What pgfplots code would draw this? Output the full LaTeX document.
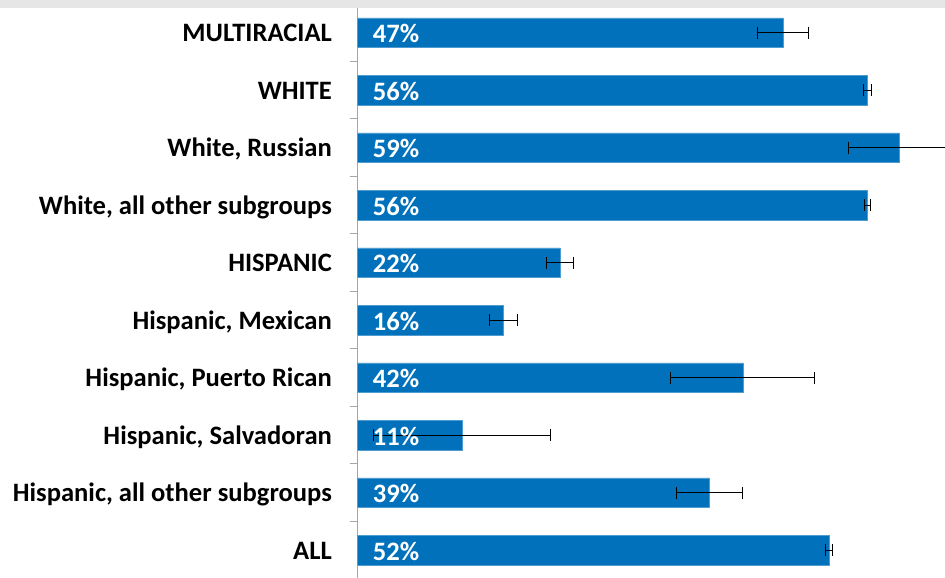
\documentclass[border=0pt]{standalone}
\usepackage{fontspec}
\setmainfont{Carlito}
\usepackage{pgfplots}
\usepackage{pgfplotstable}
\pgfplotsset{compat=1.18}

\definecolor{barblue}{RGB}{2,113,188}
\definecolor{axisgray}{RGB}{166,166,166}
\definecolor{stripgray}{RGB}{230,230,230}

% y = row (0 = top), x = share, e = error half-width, lab = printed label
\pgfplotstableread{
y x     e    lab
0 46.7  2.8  47\%
1 56.0  0.4  56\%
2 59.45 5.6  59\%
3 56.0  0.35 56\%
4 22.2  1.5  22\%
5 16.0  1.55 16\%
6 42.3  7.9  42\%
7 11.46 9.7  11\%
8 38.66 3.6  39\%
9 51.77 0.4  52\%
}\shares

\begin{document}
\begin{tikzpicture}
\begin{axis}[
    at={(357.7bp,-0.8bp)}, anchor=south west,
    scale only axis,
    width=587.3bp, height=575bp,
    xmin=0, xmax=64.5,
    ymin=-0.5, ymax=9.5,
    y dir=reverse,
    axis x line=none,
    axis y line*=left,
    y axis line style={axisgray, line width=1bp, -},
    xtick=\empty,
    ytick={0,...,9},
    yticklabels={MULTIRACIAL, WHITE, {White, Russian}, {White, all other subgroups},
        HISPANIC, {Hispanic, Mexican}, {Hispanic, Puerto Rican}, {Hispanic, Salvadoran},
        {Hispanic, all other subgroups}, ALL},
    major tick length=0pt,
    minor ytick={-0.5,0.5,...,9.5},
    minor tick length=8bp,
    tick align=outside,
    minor tick style={axisgray, line width=1bp},
    yticklabel style={font=\bfseries\fontsize{26.67}{30}\selectfont, anchor=base east,
        inner sep=0pt, xshift=-25.7bp, yshift=-9.2bp, text=black},
]
\addplot[xbar, bar width=29.5bp, fill=barblue, draw=barblue!70!white, line width=0.5bp,
    error bars/.cd, x dir=both, x explicit, error mark=|,
    error bar style={black, line width=1bp},
    error mark options={black, mark size=6bp, line width=1bp}]
    table[x=x, y=y, x error=e] {\shares};
\addplot[draw=none, mark=none,
    nodes near coords, point meta=explicit symbolic,
    every node near coord/.style={anchor=base west, inner sep=0pt, xshift=15bp,
        yshift=-10.2bp, text=white, font=\bfseries\fontsize{26.67}{30}\selectfont}]
    table[x expr=0, y=y, meta=lab] {\shares};
\end{axis}
\fill[stripgray] (0,570bp) rectangle (945bp,578bp);
\pgfresetboundingbox
\useasboundingbox (0,0) rectangle (945bp,578bp);
\end{tikzpicture}
\end{document}
